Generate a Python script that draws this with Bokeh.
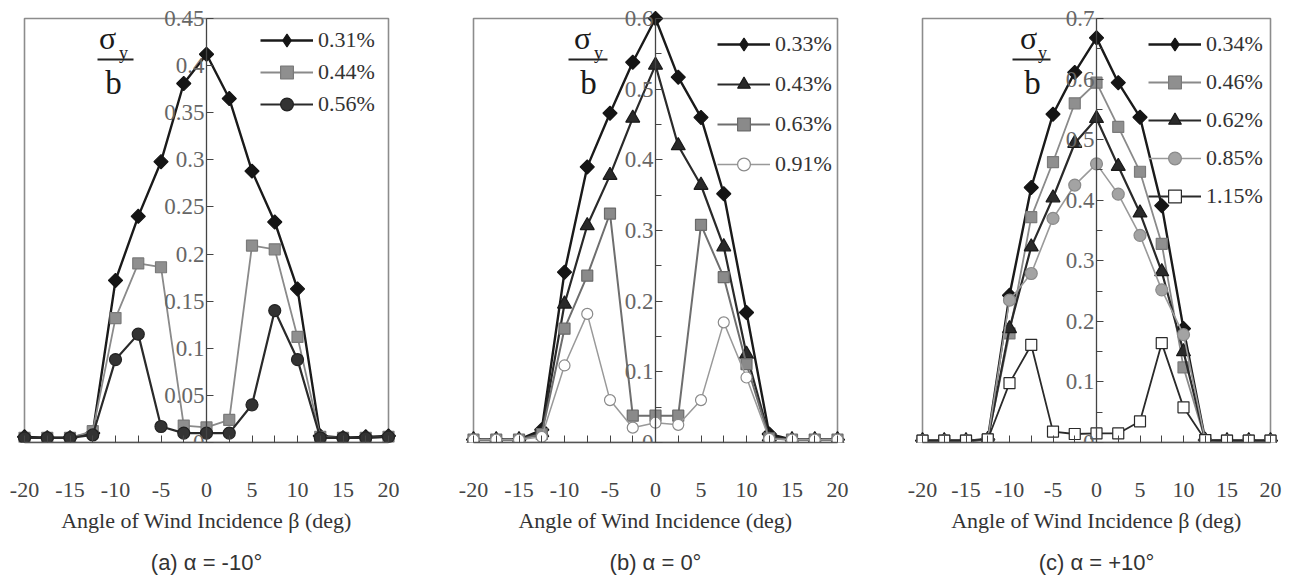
import math
from bokeh.plotting import figure
from bokeh.models import (Range1d, FixedTicker, Legend, LegendItem, Label,
                          BoxAnnotation, Title)
from bokeh.layouts import row
from bokeh.embed import file_html
from bokeh.resources import INLINE

# ---------------- data ----------------
BETA = [-20, -17.5, -15, -12.5, -10, -7.5, -5, -2.5, 0, 2.5, 5, 7.5, 10, 12.5, 15, 17.5, 20]

X_TICKS = [-20, -15, -10, -5, 0, 5, 10, 15, 20]
X_TICK_LABELS = ["-20", "-15", "-10", "-5", "0", "5", "10", "15", "20"]
X_MINOR = [-17.5, -12.5, -7.5, -2.5, 2.5, 7.5, 12.5, 17.5]

# (a) alpha = -10
A_LABELS = ["0.31%", "0.44%", "0.56%"]
A_031 = [0.006, 0.005, 0.005, 0.010, 0.172, 0.240, 0.298, 0.381, 0.412, 0.365, 0.288, 0.234, 0.163, 0.007, 0.005, 0.006, 0.007]
A_044 = [0.005, 0.005, 0.005, 0.012, 0.132, 0.190, 0.186, 0.018, 0.016, 0.024, 0.209, 0.205, 0.112, 0.006, 0.005, 0.005, 0.006]
A_056 = [0.005, 0.005, 0.005, 0.008, 0.088, 0.115, 0.017, 0.010, 0.010, 0.010, 0.040, 0.140, 0.088, 0.005, 0.005, 0.005, 0.006]
A_YTICKS = ["0", "0.05", "0.1", "0.15", "0.2", "0.25", "0.3", "0.35", "0.4", "0.45"]
A_YMINOR = []

# (b) alpha = 0
B_LABELS = ["0.33%", "0.43%", "0.63%", "0.91%"]
B_033 = [0.004, 0.004, 0.004, 0.018, 0.241, 0.390, 0.466, 0.538, 0.600, 0.517, 0.460, 0.352, 0.184, 0.012, 0.004, 0.004, 0.004]
B_043 = [0.004, 0.004, 0.004, 0.014, 0.196, 0.307, 0.378, 0.459, 0.534, 0.420, 0.364, 0.277, 0.125, 0.008, 0.004, 0.004, 0.004]
B_063 = [0.004, 0.004, 0.004, 0.012, 0.161, 0.236, 0.324, 0.038, 0.038, 0.038, 0.308, 0.234, 0.111, 0.006, 0.004, 0.004, 0.004]
B_091 = [0.004, 0.004, 0.004, 0.008, 0.109, 0.182, 0.060, 0.021, 0.028, 0.025, 0.060, 0.170, 0.092, 0.005, 0.004, 0.004, 0.004]
B_YTICKS = ["0", "0.1", "0.2", "0.3", "0.4", "0.5", "0.6"]
B_YMINOR = [0.05, 0.15, 0.25, 0.35, 0.45, 0.55]

# (c) alpha = +10
C_LABELS = ["0.34%", "0.46%", "0.62%", "0.85%", "1.15%"]
C_034 = [0.003, 0.003, 0.003, 0.005, 0.243, 0.421, 0.542, 0.611, 0.668, 0.594, 0.537, 0.391, 0.188, 0.004, 0.003, 0.003, 0.003]
C_046 = [0.003, 0.003, 0.003, 0.005, 0.180, 0.372, 0.463, 0.560, 0.594, 0.521, 0.447, 0.328, 0.124, 0.004, 0.003, 0.003, 0.003]
C_062 = [0.003, 0.003, 0.003, 0.005, 0.188, 0.323, 0.404, 0.494, 0.535, 0.456, 0.379, 0.282, 0.150, 0.004, 0.003, 0.003, 0.003]
C_085 = [0.003, 0.003, 0.003, 0.005, 0.235, 0.279, 0.370, 0.425, 0.460, 0.410, 0.342, 0.252, 0.178, 0.004, 0.003, 0.003, 0.003]
C_115 = [0.003, 0.003, 0.003, 0.005, 0.098, 0.161, 0.018, 0.014, 0.015, 0.015, 0.035, 0.164, 0.058, 0.004, 0.003, 0.003, 0.003]
C_YTICKS = ["0", "0.1", "0.2", "0.3", "0.4", "0.5", "0.6", "0.7"]
C_YMINOR = [0.05, 0.15, 0.25, 0.35, 0.45, 0.55, 0.65]

XLABEL_AC = "Angle of Wind Incidence \u03b2 (deg)"
XLABEL_B = "Angle of Wind Incidence (deg)"
CAPTIONS = ["(a) \u03b1 = -10\u00b0", "(b) \u03b1 = 0\u00b0", "(c) \u03b1 = +10\u00b0"]

# ---------------- styles ----------------
# "legend" gives the marker used for the legend swatch when it differs
DIAMOND = dict(marker="square", size=10, angle=math.pi / 4, fill_color="#151515", mline="#151515",
               color="#1a1a1a", width=2.4, legend=dict(marker="diamond", size=21))
GRAY_SQ = dict(marker="square", size=11, angle=0, fill_color="#8f8f8f", mline="#7a7a7a", color="#8a8a8a", width=1.8)
DARK_SQ = dict(marker="square", size=11, angle=0, fill_color="#8a8a8a", mline="#6a6a6a", color="#6e6e6e", width=2.0)
DARK_CIRC = dict(marker="circle", size=12, angle=0, fill_color="#333333", mline="#222222", color="#2a2a2a", width=2.2)
TRI = dict(marker="triangle", size=14, angle=0, fill_color="#2a2a2a", mline="#1a1a1a", color="#2a2a2a", width=2.2)
OPEN_CIRC = dict(marker="circle", size=11, angle=0, fill_color="white", mline="#8a8a8a", color="#999999", width=1.5)
GRAY_CIRC = dict(marker="circle", size=12, angle=0, fill_color="#a3a3a3", mline="#8a8a8a", color="#9a9a9a", width=1.6)
OPEN_SQ = dict(marker="square", size=11, angle=0, fill_color="white", mline="#2a2a2a", color="#2a2a2a", width=1.8)

FONT_SERIF = "Liberation Serif"
FONT_SANS = "Liberation Sans"

H = 586
FRAME_TOP = 6
BOX_TOP = 18
FRAME_BOTTOM = 443


def make_panel(width, left_border, frame_w, box_w, yticks, yminor, series, caption,
               xlabel, legend_x, legend_pitch, frac):
    px_per_deg = box_w / 40.0
    half = frame_w / 2.0 / px_per_deg
    y_vals = [float(s) for s in yticks]
    y_max = y_vals[-1]
    y_end = y_max * (FRAME_BOTTOM - FRAME_TOP) / (FRAME_BOTTOM - BOX_TOP)

    p = figure(width=width, height=H, x_range=Range1d(-half, half),
               y_range=Range1d(0, y_end), output_backend="svg",
               toolbar_location=None,
               min_border_left=left_border,
               min_border_right=width - left_border - frame_w,
               min_border_top=FRAME_TOP, min_border_bottom=H - FRAME_BOTTOM)
    p.outline_line_color = None
    p.grid.visible = False
    p.background_fill_color = "white"
    p.border_fill_color = "white"

    # plot-area box
    p.quad(left=[X_TICKS[0]], right=[X_TICKS[-1]], bottom=[0], top=[y_max],
           fill_alpha=0, line_color="#8c8c8c", line_width=1.6)

    items = []
    for label, vals, st in series:
        lr = p.line(BETA, vals, line_color=st["color"], line_width=st["width"])
        sr = p.scatter(BETA, vals, marker=st["marker"], size=st["size"],
                       angle=st["angle"], fill_color=st["fill_color"],
                       line_color=st["mline"], line_width=1.2)
        if "legend" in st:
            # swatch-only renderer (no visible points) for the legend marker
            sw = p.scatter([float("nan")], [float("nan")], marker=st["legend"]["marker"],
                           size=st["legend"]["size"], fill_color=st["fill_color"],
                           line_color=st["mline"], line_width=1.2)
            items.append(LegendItem(label=label, renderers=[lr, sw]))
        else:
            items.append(LegendItem(label=label, renderers=[lr, sr]))

    # x axis
    xa = p.xaxis[0]
    xa.ticker = FixedTicker(ticks=X_TICKS, minor_ticks=X_MINOR)
    xa.major_label_overrides = {t: s for t, s in zip(X_TICKS, X_TICK_LABELS)}
    xa.bounds = (X_TICKS[0], X_TICKS[-1])
    xa.axis_line_color = "#555555"
    xa.axis_line_width = 1.6
    xa.major_tick_in = 7
    xa.major_tick_out = 0
    xa.minor_tick_in = 7
    xa.minor_tick_out = 0
    xa.major_tick_line_color = "#444444"
    xa.minor_tick_line_color = "#444444"
    xa.major_label_standoff = 40
    xa.major_label_text_font = FONT_SERIF
    xa.major_label_text_font_size = "22px"
    xa.major_label_text_color = "#444444"
    xa.axis_label = xlabel
    xa.axis_label_text_font = FONT_SERIF
    xa.axis_label_text_font_size = "22px"
    xa.axis_label_text_font_style = "normal"
    xa.axis_label_text_color = "#333333"
    xa.axis_label_standoff = 8

    # y axis through x = 0
    ya = p.yaxis[0]
    ya.fixed_location = 0
    ya.ticker = FixedTicker(ticks=y_vals, minor_ticks=yminor)
    ya.major_label_overrides = {v: s for v, s in zip(y_vals, yticks)}
    ya.bounds = (0, y_max)
    ya.axis_line_color = "#444444"
    ya.axis_line_width = 1.3
    ya.major_tick_in = 7
    ya.major_tick_out = 0
    ya.minor_tick_in = 6
    ya.minor_tick_out = 0
    ya.major_tick_line_color = "#444444"
    ya.minor_tick_line_color = "#444444"
    ya.major_label_standoff = 2
    ya.major_label_text_font = FONT_SERIF
    ya.major_label_text_font_size = "23px"
    ya.major_label_text_color = "#666666"

    # legend
    n = len(items)
    item_h = 32
    spacing = legend_pitch - item_h
    leg_h = n * item_h + (n - 1) * spacing
    leg_top = 29  # px below page top
    leg_bottom_from_frame = (FRAME_BOTTOM - leg_top) - leg_h
    legend = Legend(items=items, location=(legend_x, leg_bottom_from_frame),
                    glyph_width=53, glyph_height=item_h, label_height=25,
                    label_standoff=5, spacing=spacing, padding=0, margin=0,
                    border_line_color=None, background_fill_alpha=0,
                    label_text_font=FONT_SERIF, label_text_font_size="22px",
                    label_text_color="#333333")
    p.add_layout(legend)

    # sigma_y / b label
    sx, sy_, bar_l, bar_r, bx = frac
    p.add_layout(Label(x=sx, y=FRAME_BOTTOM - 38, x_units="screen", y_units="screen",
                       text="\u03c3", text_font=FONT_SERIF, text_font_size="32px",
                       text_align="center", text_baseline="middle", text_color="#1a1a1a"))
    p.add_layout(Label(x=sy_, y=FRAME_BOTTOM - 53, x_units="screen", y_units="screen",
                       text="y", text_font=FONT_SERIF, text_font_size="18px",
                       text_align="center", text_baseline="middle", text_color="#222222"))
    p.add_layout(BoxAnnotation(left=bar_l, right=bar_r, bottom=FRAME_BOTTOM - 61,
                               top=FRAME_BOTTOM - 59, left_units="screen",
                               right_units="screen", bottom_units="screen",
                               top_units="screen", fill_color="#222222", fill_alpha=1,
                               line_color=None))
    p.add_layout(Label(x=bx, y=FRAME_BOTTOM - 83, x_units="screen", y_units="screen",
                       text="b", text_font=FONT_SERIF, text_font_size="33px",
                       text_align="center", text_baseline="middle", text_color="#1a1a1a"))

    t = Title(text=caption, align="center", text_font=FONT_SANS, text_font_size="22px",
              text_font_style="normal", text_color="#333333", standoff=24)
    p.add_layout(t, "below")
    return p


pa = make_panel(440, 10, 392, 364, A_YTICKS, A_YMINOR,
                [(A_LABELS[0], A_031, DIAMOND), (A_LABELS[1], A_044, GRAY_SQ),
                 (A_LABELS[2], A_056, DARK_CIRC)],
                CAPTIONS[0], XLABEL_AC, 250, 30, (97, 113, 87, 123, 103))
pb = make_panel(440, 19, 392, 364, B_YTICKS, B_YMINOR,
                [(B_LABELS[0], B_033, DIAMOND), (B_LABELS[1], B_043, TRI),
                 (B_LABELS[2], B_063, DARK_SQ), (B_LABELS[3], B_091, OPEN_CIRC)],
                CAPTIONS[1], XLABEL_B, 258, 40, (123, 139, 109, 148, 129))
pc = make_panel(415, 28, 376, 348, C_YTICKS, C_YMINOR,
                [(C_LABELS[0], C_034, DIAMOND), (C_LABELS[1], C_046, GRAY_SQ),
                 (C_LABELS[2], C_062, TRI), (C_LABELS[3], C_085, GRAY_CIRC),
                 (C_LABELS[4], C_115, OPEN_SQ)],
                CAPTIONS[2], XLABEL_AC, 240, 38, (120, 134, 104, 142, 124))

layout = row(pa, pb, pc, spacing=0)
open("out.html", "w").write(file_html(layout, INLINE))
